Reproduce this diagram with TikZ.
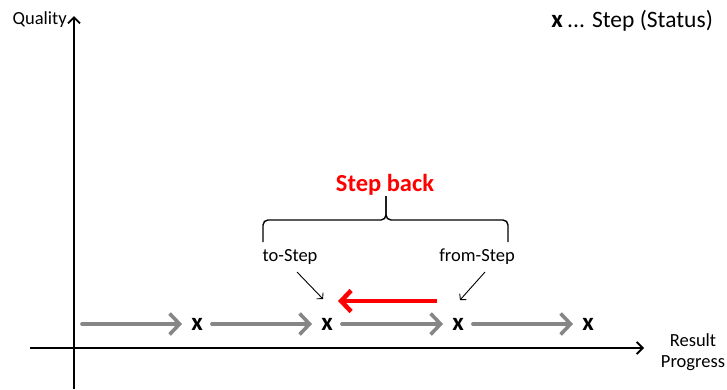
\documentclass[tikz,border=0pt]{standalone}
\usepackage{fontspec}
\setmainfont{Carlito}
\usetikzlibrary{arrows.meta}

\tikzset{
  axis/.style={line width=1.8pt, -{Straight Barb[length=6pt,width=12pt,line width=1.8pt]}},
  move/.style={draw=gray!95, line width=3.6pt, line cap=round,
    -{Straight Barb[length=10pt,width=21pt,line width=3.6pt]}},
  back/.style={draw=red, line width=4.5pt,
    -{Straight Barb[length=10pt,width=21pt,line width=4.5pt]}},
  pointer/.style={line width=0.9pt, -{Straight Barb[length=4pt,width=9pt]}},
  status/.style={font=\fontsize{25}{25}\selectfont\bfseries, inner sep=9pt},
  lbl/.style={font=\fontsize{18.5}{21}\selectfont, inner sep=0pt, align=center},
  bracket/.style={line width=1.4pt, rounded corners=5pt},
}

\begin{document}
\begin{tikzpicture}[x=1pt, y=-1pt]
	\useasboundingbox (0,0) rectangle (727,389);
	% axes
	\draw[axis] (74,389) -- (74,16);
	\draw[axis] (30,348) -- (644,348);
	\node[lbl, anchor=east] (quality) at (67,20) {Quality};
	\node[lbl] (progress) at (693,352) {Result\\Progress};
	% legend
	\node[status, inner sep=0pt] (key) at (557,21) {x};
	\node[lbl, anchor=west, font=\fontsize{23.5}{25}\selectfont] (keytext) at (567,21) {... Step (Status)};
	% steps along the result axis
	\coordinate (start) at (82,324);
	\foreach \n/\x in {1/197,2/327,3/458,4/588}
		\node[status] (s\n) at (\x,324) {x};
	\draw[move] (start) -- (s1.west);
	\foreach \a/\b in {1/2,2/3,3/4}
		\draw[move] (s\a.east) -- (s\b.west);
	% going back one step
	\coordinate (bfrom) at (437,301);
	\coordinate (bto) at (338,301);
	\draw[back] (bfrom) -- (bto);
	\node[lbl] (to) at (290,257) {to-Step};
	\node[lbl] (from) at (477,257) {from-Step};
	\draw[pointer] (297,272) -- (323,299);
	\draw[pointer] (485,272) -- (460,300);
	% bracket over both steps
	\draw[bracket] (263,242) -- (263,220) -- (386,220) -- (386,196);
	\draw[bracket] (508,242) -- (508,220) -- (386,220) -- (386,196);
	\node[lbl, text=red, font=\fontsize{24.5}{25}\selectfont\bfseries] (title) at (385,185) {Step back};
\end{tikzpicture}
\end{document}
